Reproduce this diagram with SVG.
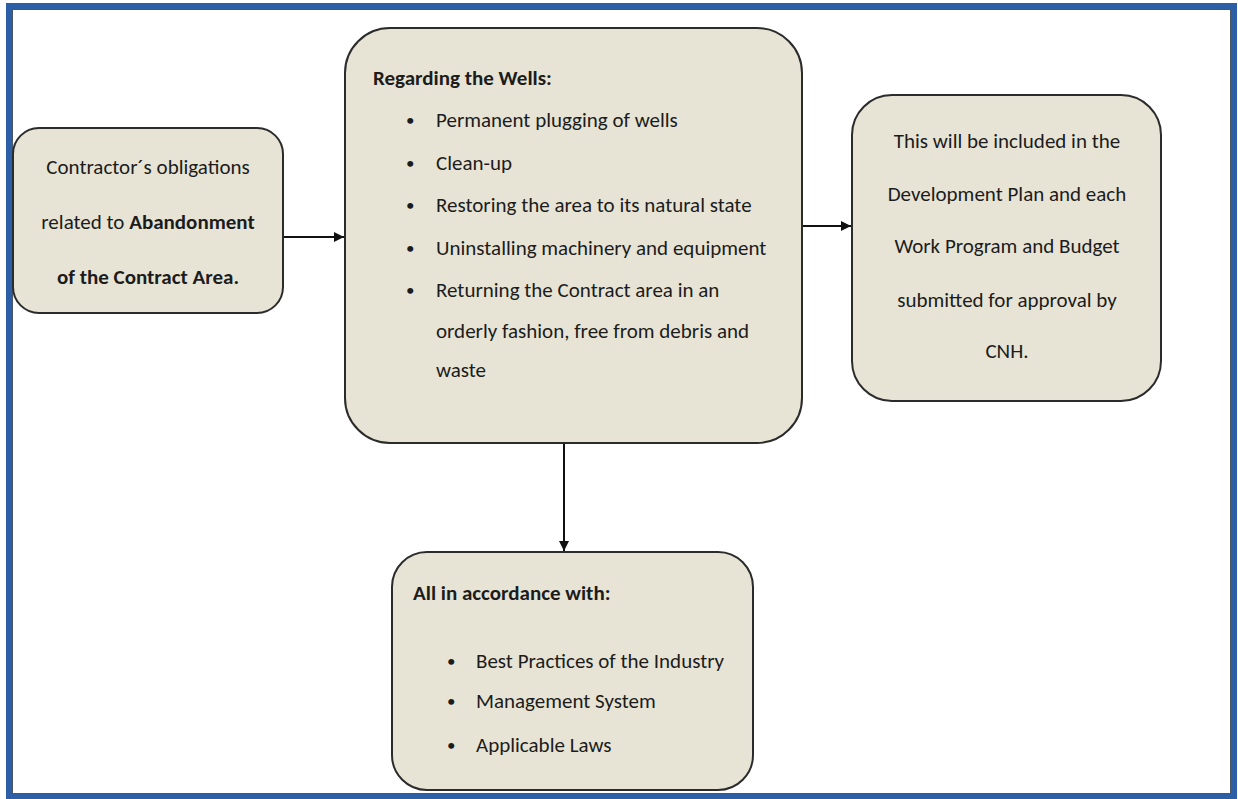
<svg xmlns="http://www.w3.org/2000/svg" width="1238" height="799" viewBox="0 0 1238 799">
<defs>
<style>
.node{fill:#e7e4d6;stroke:#2b2b2b;stroke-width:2}
.t{font-family:Carlito,Lato,"Open Sans",sans-serif;font-size:21px;fill:#1c1c1c}
.c{text-anchor:middle}
.b{font-weight:bold}
.dot{font-size:17px}
.conn{stroke:#111;stroke-width:2;fill:none}
</style>
<marker id="arr" viewBox="0 0 10 10" refX="10" refY="5" markerWidth="5.5" markerHeight="5" orient="auto" markerUnits="strokeWidth">
<path d="M0,0 L10,5 L0,10 z" fill="#111"/>
</marker>
</defs>
<rect x="0" y="0" width="1238" height="799" fill="#ffffff"/>
<rect id="frame" x="9" y="6" width="1225" height="791" fill="none" stroke="#2c5fa6" stroke-width="6"/>
<rect x="12.5" y="9.5" width="1218" height="784" fill="none" stroke="#4a5566" stroke-width="1"/>

<g id="connectors">
<line class="conn" x1="283" y1="237" x2="344" y2="237" marker-end="url(#arr)"/>
<line class="conn" x1="802" y1="226" x2="851" y2="226" marker-end="url(#arr)"/>
<line class="conn" x1="564" y1="443" x2="564" y2="551" marker-end="url(#arr)"/>
</g>

<g id="node-obligations">
<rect class="node" x="13" y="128" width="270" height="185" rx="26"/>
<text class="t c" x="148" y="174">Contractor´s obligations</text>
<text class="t c" x="148" y="229">related to <tspan class="b">Abandonment</tspan></text>
<text class="t c b" x="148" y="284">of the Contract Area.</text>
</g>

<g id="node-wells">
<rect class="node" x="345" y="28" width="457" height="415" rx="45"/>
<text class="t b" x="373" y="85">Regarding the Wells:</text>
<text class="t dot" x="406" y="126">•</text><text class="t" x="436" y="127">Permanent plugging of wells</text>
<text class="t dot" x="406" y="169">•</text><text class="t" x="436" y="170">Clean-up</text>
<text class="t dot" x="406" y="211">•</text><text class="t" x="436" y="212">Restoring the area to its natural state</text>
<text class="t dot" x="406" y="254">•</text><text class="t" x="436" y="255">Uninstalling machinery and equipment</text>
<text class="t dot" x="406" y="296">•</text><text class="t" x="436" y="297">Returning the Contract area in an</text>
<text class="t" x="436" y="338">orderly fashion, free from debris and</text>
<text class="t" x="436" y="377">waste</text>
</g>

<g id="node-plan">
<rect class="node" x="852" y="95" width="309" height="306" rx="40"/>
<text class="t c" x="1007" y="148">This will be included in the</text>
<text class="t c" x="1007" y="201">Development Plan and each</text>
<text class="t c" x="1007" y="253">Work Program and Budget</text>
<text class="t c" x="1007" y="307">submitted for approval by</text>
<text class="t c" x="1007" y="358">CNH.</text>
</g>

<g id="node-accordance">
<rect class="node" x="392" y="552" width="361" height="238" rx="35"/>
<text class="t b" x="413" y="600">All in accordance with:</text>
<text class="t dot" x="447" y="667">•</text><text class="t" x="476" y="668">Best Practices of the Industry</text>
<text class="t dot" x="447" y="707">•</text><text class="t" x="476" y="708">Management System</text>
<text class="t dot" x="447" y="751">•</text><text class="t" x="476" y="752">Applicable Laws</text>
</g>
</svg>
